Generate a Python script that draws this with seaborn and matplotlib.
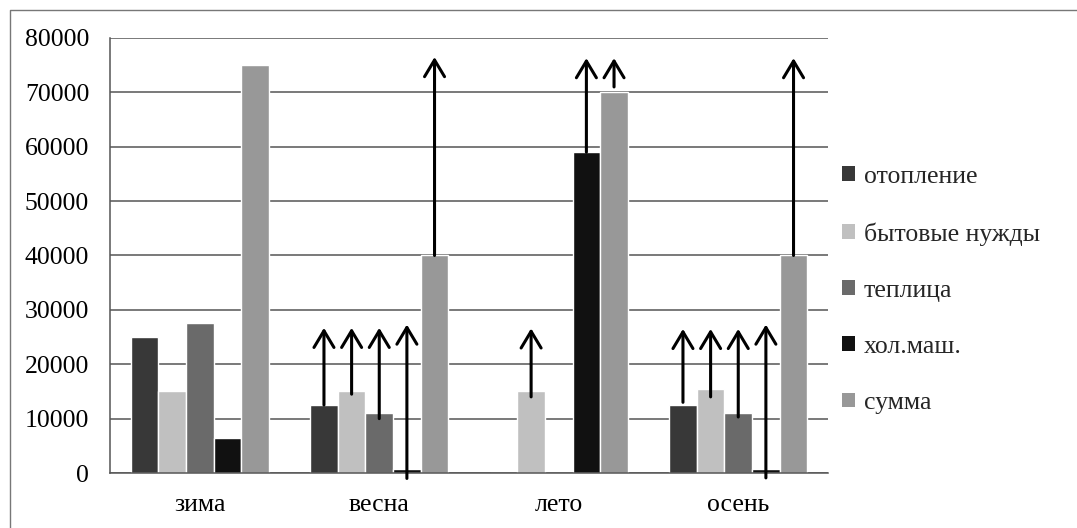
import matplotlib
matplotlib.use("Agg")
import pandas as pd
import matplotlib.pyplot as plt
import seaborn as sns
from matplotlib.patches import Patch
from matplotlib.lines import Line2D

# ---------- data ----------
seasons = ["зима", "весна", "лето", "осень"]
series = ["отопление", "бытовые нужды", "теплица", "хол.маш.", "сумма"]

otoplenie = [25000, 12500, 0, 12500]
bytovye = [15000, 15000, 15000, 15500]
teplitsa = [27500, 11000, 0, 11000]
holmash = [6500, 800, 59000, 800]
summa = [75000, 40000, 70000, 40000]

# arrows drawn over the bars: season, series, start value, tip value
arrow_season = ["весна", "весна", "весна", "весна", "весна",
                "лето", "лето", "лето",
                "осень", "осень", "осень", "осень", "осень"]
arrow_series = ["отопление", "бытовые нужды", "теплица", "хол.маш.", "сумма",
                "бытовые нужды", "хол.маш.", "сумма",
                "отопление", "бытовые нужды", "теплица", "хол.маш.", "сумма"]
arrow_from = [12500, 14500, 10000, -1000, 40000,
              14000, 59000, 71000,
              13000, 14000, 10300, -900, 40000]
arrow_to = [26700, 26700, 26700, 27300, 76500,
            26600, 76300, 76300,
            26500, 26500, 26500, 27300, 76300]

y_ticks = [0, 10000, 20000, 30000, 40000, 50000, 60000, 70000, 80000]

colors = ["#383838", "#c0c0c0", "#6a6a6a", "#111111", "#989898"]

# ---------- setup ----------
sns.set_theme(style="white")
plt.rcParams["font.family"] = ["Liberation Serif", "DejaVu Serif"]
FS = 18.5

values = [otoplenie, bytovye, teplitsa, holmash, summa]
rows = []
for name, vals in zip(series, values):
    for season, v in zip(seasons, vals):
        rows.append({"season": season, "series": name, "value": v})
df = pd.DataFrame(rows)

fig = plt.figure(figsize=(10.77, 5.28), dpi=100)
ax = fig.add_axes([110 / 1077, 55 / 528, 718 / 1077, 435 / 528])

sns.barplot(data=df, x="season", y="value", hue="series",
            order=seasons, hue_order=series, palette=colors,
            width=0.77, saturation=1, errorbar=None, legend=False, ax=ax)

ax.set_ylim(0, 80000)
ax.set_yticks(y_ticks)
ax.set_yticklabels([str(t) for t in y_ticks])
ax.set_xlabel("")
ax.set_ylabel("")
ax.yaxis.grid(True, color="#555555", lw=1.1)
ax.set_axisbelow(True)
for side in ["top", "right"]:
    ax.spines[side].set_visible(False)
for side in ["left", "bottom"]:
    ax.spines[side].set_color("#555555")
    ax.spines[side].set_linewidth(1.1)
ax.tick_params(axis="both", length=0, labelsize=FS, labelcolor="black")
ax.tick_params(axis="x", pad=15)
ax.tick_params(axis="y", pad=15)

# ---------- arrows ----------
for season, name, y0, y1 in zip(arrow_season, arrow_series, arrow_from, arrow_to):
    bar = ax.containers[series.index(name)][seasons.index(season)]
    xc = bar.get_x() + bar.get_width() / 2
    ax.annotate("", xy=(xc, y1), xytext=(xc, y0),
                arrowprops=dict(arrowstyle="->,head_length=0.6,head_width=0.36",
                                mutation_scale=20, lw=2.2, color="black",
                                shrinkA=0, shrinkB=0),
                annotation_clip=False)

# ---------- legend ----------
handles = [Patch(facecolor=c, edgecolor="none") for c in colors]
fig.legend(handles, series, loc="center left",
           bbox_to_anchor=(842 / 1077, (528 - 290) / 528),
           frameon=False, fontsize=FS, handlelength=0.5, handleheight=0.5,
           handletextpad=0.35, labelspacing=1.33, borderpad=0, borderaxespad=0)

# outer chart frame (cropped at right and bottom)
fig.add_artist(Line2D([10 / 1077, 10 / 1077, 1], [0, 1 - 10 / 528, 1 - 10 / 528],
                      transform=fig.transFigure, color="#777777", lw=1))

fig.savefig("out.png", dpi=100)
